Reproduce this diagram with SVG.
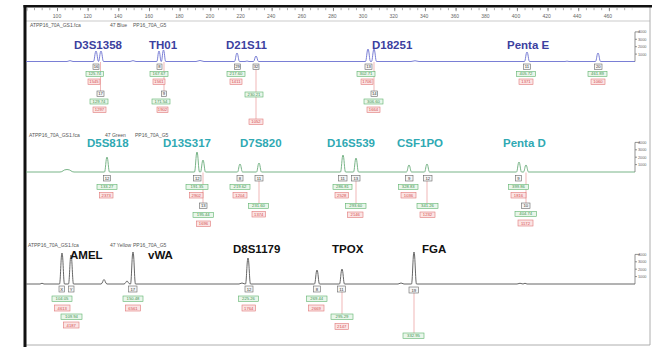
<svg xmlns="http://www.w3.org/2000/svg" width="652" height="347" viewBox="0 0 652 347">
<defs>
<style>
text{font-family:"Liberation Sans",Arial,sans-serif}
.rl{font-size:5px;fill:#666;text-anchor:middle}
.hd{font-size:5px;fill:#555}
.lb{font-size:11.5px;font-weight:bold}
.lb1{fill:#3c3f9f}.lb2{fill:#2fa9b3}.lb3{fill:#111}
.tr{fill:none;stroke-width:0.9;stroke-linejoin:round}
.t1{stroke:#6b70d0}.t2{stroke:#6aab7b}.t3{stroke:#555}
.a{fill:#f6f6f6;stroke:#666;stroke-width:0.6}
.g{fill:#e9f6ea;stroke:#5cb36c;stroke-width:0.6}
.r{fill:#fbe4e4;stroke:#e07777;stroke-width:0.6}
.at{font-size:4.2px;fill:#333;text-anchor:middle}
.gt{font-size:4.2px;fill:#3e9150;text-anchor:middle}
.rt{font-size:4.2px;fill:#d55050;text-anchor:middle}
.ln{stroke:#ea9a9a;stroke-width:0.7;fill:none}
.sc{font-size:3.8px;fill:#666}
</style>
<pattern id="tk" patternUnits="userSpaceOnUse" x="26.34" y="0" width="7.665" height="20"><rect x="0" y="8" width="0.6" height="2.2" fill="#777"/></pattern>
<pattern id="tk2" patternUnits="userSpaceOnUse" x="26.34" y="0" width="30.66" height="20"><rect x="0" y="8" width="0.7" height="3.4" fill="#666"/></pattern>
<g id="scale">
<path d="M635 0 V-29.6 H640 M635 -7.4 H637 M635 -14.8 H637 M635 -22.2 H637" stroke="#666" stroke-width="0.7" fill="none"/>
<text class="sc" x="638" y="-28.2">4000</text>
<text class="sc" x="638" y="-20.8">3000</text>
<text class="sc" x="638" y="-13.4">2000</text>
<text class="sc" x="638" y="-6">1000</text>
</g>
</defs>
<rect width="652" height="347" fill="#fff"/>
<!-- frame -->
<g id="frame">
<path d="M650 7 V345 H26" stroke="#999" stroke-width="0.8" fill="none"/>
<line x1="26" y1="21" x2="650" y2="21" stroke="#aaa" stroke-width="0.6"/>
<rect x="23.5" y="5" width="3" height="342" fill="#111"/>
<rect x="23.5" y="5" width="628.5" height="2.5" fill="#111"/>
</g>
<!-- ruler -->
<g id="ruler">
<rect x="26.3" y="7.5" width="606" height="4" fill="url(#tk)"/>
<rect x="26.3" y="7.5" width="606" height="4" fill="url(#tk2)"/>
<text class="rl" x="57" y="17.5">100</text>
<text class="rl" x="87.6" y="17.5">120</text>
<text class="rl" x="118.2" y="17.5">140</text>
<text class="rl" x="148.8" y="17.5">160</text>
<text class="rl" x="179.4" y="17.5">180</text>
<text class="rl" x="210" y="17.5">200</text>
<text class="rl" x="240.6" y="17.5">220</text>
<text class="rl" x="271.2" y="17.5">240</text>
<text class="rl" x="301.8" y="17.5">260</text>
<text class="rl" x="332.4" y="17.5">280</text>
<text class="rl" x="363" y="17.5">300</text>
<text class="rl" x="393.6" y="17.5">320</text>
<text class="rl" x="424.2" y="17.5">340</text>
<text class="rl" x="454.8" y="17.5">360</text>
<text class="rl" x="485.4" y="17.5">380</text>
<text class="rl" x="516" y="17.5">400</text>
<text class="rl" x="546.6" y="17.5">420</text>
<text class="rl" x="577.2" y="17.5">440</text>
<text class="rl" x="607.8" y="17.5">460</text>
</g>
<!-- headers -->
<g id="headers">
<text class="hd" x="30" y="27">ATPP16_70A_GS1.fca</text><text class="hd" x="110" y="27">47 Blue</text><text class="hd" x="133" y="27">PP16_70A_G5</text>
<text class="hd" x="29" y="137">ATPP16_70A_GS1.fca</text><text class="hd" x="105" y="137">47 Green</text><text class="hd" x="135" y="137">PP16_70A_G5</text>
<text class="hd" x="28" y="247">ATPP16_70A_GS1.fca</text><text class="hd" x="110" y="247">47 Yellow</text><text class="hd" x="133" y="247">PP16_70A_G5</text>
</g>
<!-- traces (connectors) -->
<g id="connectors">
<path class="tr t1" d="M26 61.5 L67 61.5 Q70 59.8 73 61.5 L93.5 61.5 C94.5 61.5 94.9 51 96 51 C97.1 51 97.5 61.5 98.5 61.5 C99.5 61.5 99.9 51 101 51 C102.1 51 102.5 61.5 103.5 61.5 L130 61.5 Q133 59.8 136 61.5 L156.8 61.5 C157.7 61.5 158 51 159 51 C160 51 160.3 61.5 161.2 61.5 L161.3 61.5 C162.2 61.5 162.5 50 163.5 50 C164.5 50 164.8 61.5 165.7 61.5 L196 61.5 Q200 59.5 204 61.5 L234.5 61.5 C235.5 61.5 235.9 53 237 53 C238.1 53 238.5 61.5 239.5 61.5 L245 61.5 Q247 60.5 249 61.5 L253.5 61.5 C254.5 61.5 254.9 56 256 56 C257.1 56 257.5 61.5 258.5 61.5 L365.5 61.5 C366.5 61.5 366.9 49 368 49 C369.1 49 369.5 61.5 370.5 61.5 L371.5 61.5 C372.5 61.5 372.9 49 374 49 C375.1 49 375.5 61.5 376.5 61.5 L411 61.5 Q415 60 419 61.5 L524.5 61.5 C525.5 61.5 525.9 52 527 52 C528.1 52 528.5 61.5 529.5 61.5 L565 61.5 Q567 60.8 569 61.5 L595.5 61.5 C596.5 61.5 596.9 53 598 53 C599.1 53 599.5 61.5 600.5 61.5 L635 61.5"/>
<path class="tr t2" d="M26 172 L60 172 C63 172 63 169.5 67 169.5 C71 169.5 71 172 74 172 L104.5 172 C105.5 172 105.9 157 107 157 C108.1 157 108.5 172 109.5 172 L194.5 172 C195.5 172 195.9 152 197 152 C198.1 152 198.5 172 199.5 172 L200.5 172 C201.5 172 201.9 160 203 160 C204.1 160 204.5 172 205.5 172 L237.5 172 C238.5 172 238.9 164 240 164 C241.1 164 241.5 172 242.5 172 L256.5 172 C257.5 172 257.9 163 259 163 C260.1 163 260.5 172 261.5 172 L340.5 172 C341.5 172 341.9 155 343 155 C344.1 155 344.5 172 345.5 172 L353.5 172 C354.5 172 354.9 158 356 158 C357.1 158 357.5 172 358.5 172 L406.5 172 C407.5 172 407.9 165 409 165 C410.1 165 410.5 172 411.5 172 L424.5 172 C425.5 172 425.9 164 427 164 C428.1 164 428.5 172 429.5 172 L516.5 172 C517.5 172 517.9 162 519 162 C520.1 162 520.5 172 521.5 172 L523.5 172 C524.5 172 524.9 165 526 165 C527.1 165 527.5 172 528.5 172 L635 172"/>
<path class="tr t3" d="M26 284 L40 284 Q42 282.5 44 284 L59.5 284 C60.5 284 60.9 253 62 253 C63.1 253 63.5 284 64.5 284 L68.5 284 C69.5 284 69.9 255 71 255 C72.1 255 72.5 284 73.5 284 L101 284 C102.5 284 103 279.5 104 279.5 C105 279.5 105.5 284 107 284 L124 284 C125.5 284 126 281 127 281 C128 281 128.5 284 130 284 L130.5 284 C131.5 284 131.9 252 133 252 C134.1 252 134.5 284 135.5 284 L239 284 Q242 282 245 284 L245.5 284 C246.5 284 246.9 258 248 258 C249.1 258 249.5 284 250.5 284 L314.5 284 C315.5 284 315.9 270 317 270 C318.1 270 318.5 284 319.5 284 L339.5 284 C340.5 284 340.9 269 342 269 C343.1 269 343.5 284 344.5 284 L398 284 Q401 282 404 284 L411.5 284 C412.5 284 412.9 252 414 252 C415.1 252 415.5 284 416.5 284 L517 284 Q520 282.5 523 284 Q525 282.5 527 284 L635 284"/>
<use href="#scale" y="61.5"/>
<use href="#scale" y="172"/>
<use href="#scale" y="284"/>
<path class="ln" d="M100.5 62 V91 M164 62 V91 M256 69.5 V119 M374 62 V91 M203 172.5 V203 M259 181 V203.5 M356 181 V203.5 M427 181 V203.5 M526 172.5 V203 M342 292 V314 M414 293 V333"/>
</g>
<!-- locus labels -->
<g id="loci">
<text class="lb lb1" x="74" y="49">D3S1358</text>
<text class="lb lb1" x="149" y="49">TH01</text>
<text class="lb lb1" x="226" y="49">D21S11</text>
<text class="lb lb1" x="372" y="49">D18251</text>
<text class="lb lb1" x="507" y="49">Penta E</text>
<text class="lb lb2" x="87" y="147">D5S818</text>
<text class="lb lb2" x="163" y="147">D13S317</text>
<text class="lb lb2" x="240" y="147">D7S820</text>
<text class="lb lb2" x="327" y="147">D16S539</text>
<text class="lb lb2" x="397" y="147">CSF1PO</text>
<text class="lb lb2" x="503" y="147">Penta D</text>
<text class="lb lb3" x="70" y="259">AMEL</text>
<text class="lb lb3" x="148" y="259">vWA</text>
<text class="lb lb3" x="233" y="253">D8S1179</text>
<text class="lb lb3" x="332" y="253">TPOX</text>
<text class="lb lb3" x="422" y="253">FGA</text>
</g>
<!-- allele call boxes -->
<g id="D3S1358">
<rect class="a" x="93" y="64" width="6" height="5.5"/><text class="at" x="96" y="68.3">16</text>
<rect class="g" x="86" y="71.5" width="17.5" height="5"/><text class="gt" x="94.8" y="75.4">125.74</text>
<rect class="r" x="88" y="79" width="12" height="5.5"/><text class="rt" x="94" y="83.3">1545</text>
<rect class="a" x="97" y="91" width="7" height="5.5"/><text class="at" x="100.5" y="95.3">17</text>
<rect class="g" x="90" y="99" width="18" height="5"/><text class="gt" x="99" y="102.9">129.74</text>
<rect class="r" x="93" y="107" width="13" height="5.5"/><text class="rt" x="99.5" y="111.3">1297</text>
</g>
<g id="TH01">
<rect class="a" x="157" y="64" width="5" height="5.5"/><text class="at" x="159.5" y="68.3">8</text>
<rect class="g" x="150" y="71.5" width="18" height="5"/><text class="gt" x="159" y="75.4">167.67</text>
<rect class="r" x="153" y="79" width="12" height="5.5"/><text class="rt" x="159" y="83.3">1561</text>
<rect class="a" x="161.5" y="91" width="5" height="5.5"/><text class="at" x="164" y="95.3">9</text>
<rect class="g" x="152" y="99" width="18" height="5"/><text class="gt" x="161" y="102.9">171.54</text>
<rect class="r" x="157" y="107" width="11" height="5.5"/><text class="rt" x="162.5" y="111.3">1902</text>
</g>
<g id="D21S11">
<rect class="a" x="234.5" y="64" width="6" height="5.5"/><text class="at" x="237.5" y="68.3">29</text>
<rect class="a" x="253" y="64" width="6" height="5.5"/><text class="at" x="256" y="68.3">32</text>
<rect class="g" x="227" y="71.5" width="18" height="5"/><text class="gt" x="236" y="75.4">217.60</text>
<rect class="r" x="230" y="79" width="12" height="5.5"/><text class="rt" x="236" y="83.3">1411</text>
<rect class="g" x="245" y="92" width="18" height="5"/><text class="gt" x="254" y="95.9">230.21</text>
<rect class="r" x="249" y="119" width="14" height="5.5"/><text class="rt" x="256" y="123.3">1052</text>
</g>
<g id="D18251">
<rect class="a" x="365" y="64" width="7" height="5.5"/><text class="at" x="368.5" y="68.3">13</text>
<rect class="g" x="357" y="71.5" width="18" height="5"/><text class="gt" x="366" y="75.4">302.71</text>
<rect class="r" x="361" y="79" width="12" height="5.5"/><text class="rt" x="367" y="83.3">1706</text>
<rect class="a" x="371" y="91" width="6.5" height="5.5"/><text class="at" x="374.25" y="95.3">14</text>
<rect class="g" x="364" y="99" width="19" height="5"/><text class="gt" x="373.5" y="102.9">306.60</text>
<rect class="r" x="367" y="107" width="13" height="5.5"/><text class="rt" x="373.5" y="111.3">1664</text>
</g>
<g id="PentaE">
<rect class="a" x="523.5" y="64" width="7" height="5.5"/><text class="at" x="527" y="68.3">11</text>
<rect class="g" x="516.5" y="71.5" width="19" height="5"/><text class="gt" x="526" y="75.4">405.72</text>
<rect class="r" x="519" y="79" width="14" height="5.5"/><text class="rt" x="526" y="83.3">1371</text>
<rect class="a" x="594.5" y="64" width="7.5" height="5.5"/><text class="at" x="598.25" y="68.3">20</text>
<rect class="g" x="588" y="71.5" width="19" height="5"/><text class="gt" x="597.5" y="75.4">461.89</text>
<rect class="r" x="591" y="79" width="14" height="5.5"/><text class="rt" x="598" y="83.3">1060</text>
</g>
<g id="D5S818">
<rect class="a" x="103.5" y="175.5" width="7" height="5.5"/><text class="at" x="107" y="179.8">12</text>
<rect class="g" x="97" y="184.5" width="20" height="5"/><text class="gt" x="107" y="188.4">133.27</text>
<rect class="r" x="99.5" y="192.5" width="13.5" height="5.5"/><text class="rt" x="106.25" y="196.8">2373</text>
</g>
<g id="D13S317">
<rect class="a" x="193.5" y="175.5" width="7.5" height="5.5"/><text class="at" x="197.25" y="179.8">12</text>
<rect class="g" x="186" y="184.5" width="22" height="5"/><text class="gt" x="197" y="188.4">191.35</text>
<rect class="r" x="189.5" y="192.5" width="13.5" height="5.5"/><text class="rt" x="196.25" y="196.8">2902</text>
<rect class="a" x="199.5" y="203" width="7.5" height="5.5"/><text class="at" x="203.25" y="207.3">13</text>
<rect class="g" x="193" y="212.5" width="20.5" height="5"/><text class="gt" x="203.25" y="216.4">195.44</text>
<rect class="r" x="196.5" y="221" width="14" height="5.5"/><text class="rt" x="203.5" y="225.3">1696</text>
</g>
<g id="D7S820">
<rect class="a" x="237" y="175.5" width="6" height="5.5"/><text class="at" x="240" y="179.8">8</text>
<rect class="g" x="230" y="184.5" width="20" height="5"/><text class="gt" x="240" y="188.4">219.62</text>
<rect class="r" x="233" y="192.5" width="14" height="5.5"/><text class="rt" x="240" y="196.8">1204</text>
<rect class="a" x="255" y="175.5" width="8" height="5.5"/><text class="at" x="259" y="179.8">11</text>
<rect class="g" x="248.5" y="203.5" width="20" height="5"/><text class="gt" x="258.5" y="207.4">231.60</text>
<rect class="r" x="252" y="211.5" width="13.5" height="5.5"/><text class="rt" x="258.75" y="215.8">1374</text>
</g>
<g id="D16S539">
<rect class="a" x="338.5" y="175.5" width="8.5" height="5.5"/><text class="at" x="342.75" y="179.8">11</text>
<rect class="g" x="333" y="184.5" width="19" height="5"/><text class="gt" x="342.5" y="188.4">286.81</text>
<rect class="r" x="335" y="192.5" width="13.5" height="5.5"/><text class="rt" x="341.75" y="196.8">2528</text>
<rect class="a" x="351.5" y="175.5" width="8.5" height="5.5"/><text class="at" x="355.75" y="179.8">13</text>
<rect class="g" x="345.5" y="203.5" width="20.5" height="5"/><text class="gt" x="355.75" y="207.4">293.60</text>
<rect class="r" x="347.5" y="212" width="15.5" height="5.5"/><text class="rt" x="355.25" y="216.3">2146</text>
</g>
<g id="CSF1PO">
<rect class="a" x="405.5" y="175.5" width="7.5" height="5.5"/><text class="at" x="409.25" y="179.8">9</text>
<rect class="g" x="398.5" y="184.5" width="19.5" height="5"/><text class="gt" x="408.25" y="188.4">328.83</text>
<rect class="r" x="401" y="192.5" width="15" height="5.5"/><text class="rt" x="408.5" y="196.8">1036</text>
<rect class="a" x="423.5" y="175.5" width="8.5" height="5.5"/><text class="at" x="427.75" y="179.8">12</text>
<rect class="g" x="417" y="203.5" width="21" height="5"/><text class="gt" x="427.5" y="207.4">341.26</text>
<rect class="r" x="420" y="212" width="15" height="5.5"/><text class="rt" x="427.5" y="216.3">1232</text>
</g>
<g id="PentaD">
<rect class="a" x="515.5" y="175.5" width="6" height="5.5"/><text class="at" x="518.5" y="179.8">9</text>
<rect class="g" x="508.5" y="184.5" width="20" height="5"/><text class="gt" x="518.5" y="188.4">399.86</text>
<rect class="r" x="511" y="192.5" width="15" height="5.5"/><text class="rt" x="518.5" y="196.8">1816</text>
<rect class="a" x="521.5" y="203" width="8.5" height="5.5"/><text class="at" x="525.75" y="207.3">10</text>
<rect class="g" x="515" y="211.5" width="21.5" height="5"/><text class="gt" x="525.75" y="215.4">404.74</text>
<rect class="r" x="518" y="220" width="15" height="6"/><text class="rt" x="525.5" y="224.5">1172</text>
</g>
<g id="AMEL">
<rect class="a" x="59" y="286" width="5.5" height="6"/><text class="at" x="61.75" y="290.5">X</text>
<rect class="a" x="68.5" y="286" width="5.5" height="6"/><text class="at" x="71.25" y="290.5">Y</text>
<rect class="g" x="52" y="296" width="20" height="5.5"/><text class="gt" x="62" y="300.2">104.05</text>
<rect class="r" x="54.5" y="305" width="15.5" height="6"/><text class="rt" x="62.25" y="309.5">4613</text>
<rect class="g" x="61" y="314" width="21" height="5.5"/><text class="gt" x="71.5" y="318.2">109.94</text>
<rect class="r" x="63.5" y="322" width="15.5" height="6"/><text class="rt" x="71.25" y="326.5">4187</text>
</g>
<g id="vWA">
<rect class="a" x="128.5" y="286" width="8.5" height="6"/><text class="at" x="132.75" y="290.5">17</text>
<rect class="g" x="123" y="296" width="20" height="5.5"/><text class="gt" x="133" y="300.2">150.48</text>
<rect class="r" x="125.5" y="305" width="15" height="6"/><text class="rt" x="133" y="309.5">6561</text>
</g>
<g id="D8S1179">
<rect class="a" x="245" y="286" width="8" height="6"/><text class="at" x="249" y="290.5">12</text>
<rect class="g" x="238.5" y="296" width="20" height="5.5"/><text class="gt" x="248.5" y="300.2">225.26</text>
<rect class="r" x="242" y="305" width="13.5" height="6"/><text class="rt" x="248.75" y="309.5">1764</text>
</g>
<g id="TPOX">
<rect class="a" x="313.5" y="286" width="7" height="6"/><text class="at" x="317" y="290.5">8</text>
<rect class="g" x="306.5" y="296" width="20.5" height="5.5"/><text class="gt" x="316.75" y="300.2">269.44</text>
<rect class="r" x="308.5" y="305" width="15.5" height="6"/><text class="rt" x="316.25" y="309.5">2669</text>
<rect class="a" x="337.5" y="286" width="8" height="6"/><text class="at" x="341.5" y="290.5">11</text>
<rect class="g" x="331" y="314" width="22" height="5.5"/><text class="gt" x="342" y="318.2">295.29</text>
<rect class="r" x="335" y="323.5" width="13.5" height="6"/><text class="rt" x="341.75" y="328">2147</text>
</g>
<g id="FGA">
<rect class="a" x="409" y="287" width="9.5" height="6"/><text class="at" x="413.75" y="291.5">19</text>
<rect class="g" x="403" y="333" width="21" height="5.5"/><text class="gt" x="413.5" y="337.2">332.95</text>
</g>
</svg>
